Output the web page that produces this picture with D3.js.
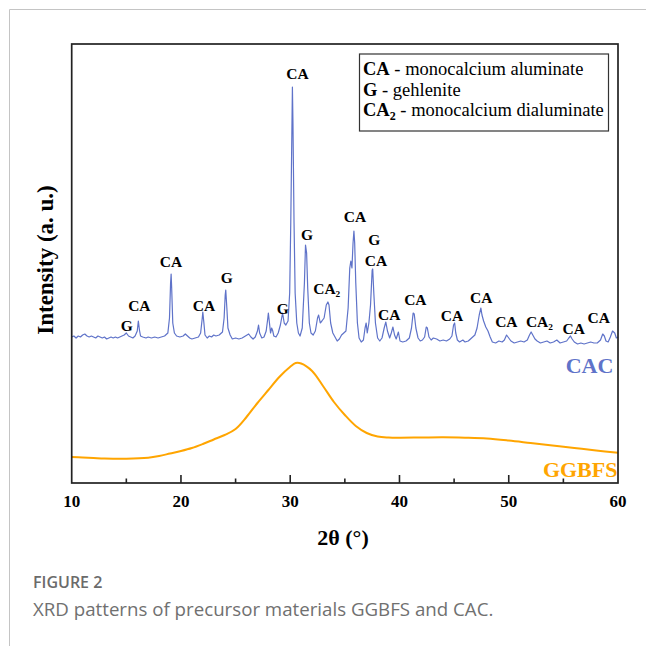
<!DOCTYPE html>
<html>
<head>
<meta charset="UTF-8">
<title>XRD patterns of precursor materials</title>
<style>
    body { margin: 0; background: #fff; }
    svg { display: block; }
    .tick-label { font: bold 17px "Liberation Serif", "Times New Roman", serif; fill: #000; }
    .peak { font: bold 15.5px "Liberation Serif", "Times New Roman", serif; fill: #000; }
    .legend { font: 18.5px "Liberation Serif", "Times New Roman", serif; fill: #000; }
    .caption-head { font: 600 16px "Open Sans", "Noto Sans", sans-serif; fill: #6b6b6b; }
    .caption { font: 18.7px "Open Sans", "Noto Sans", sans-serif; fill: #707070; }
</style>
</head>
<body>
<script src="https://d3js.org/d3.v7.min.js"></script>
<script>
// CAC pattern (2theta, intensity a.u.)
var cacAngle = [10.0, 10.2, 10.4, 10.6, 10.8, 11.0, 11.2, 11.4, 11.6, 11.8, 12.0, 12.2, 12.4, 12.6, 12.8, 13.0, 13.2, 13.4, 13.6, 13.8,
    14.0, 14.2, 14.4, 14.6, 14.8, 15.0, 15.2, 15.4, 15.6, 15.8, 16.0, 16.1, 16.2, 16.3, 16.5, 16.8, 17.0, 17.3, 17.6, 17.9,
    18.2, 18.5, 18.8, 18.95, 19.05, 19.1, 19.15, 19.25, 19.4, 19.6, 19.9, 20.2, 20.4, 20.6, 20.8, 21.0, 21.3, 21.6, 21.8, 21.95,
    22.0, 22.1, 22.2, 22.4, 22.6, 22.8, 23.0, 23.2, 23.5, 23.8, 23.95, 24.05, 24.1, 24.2, 24.3, 24.5, 24.7, 25.0, 25.3, 25.6,
    25.9, 26.2, 26.4, 26.6, 26.8, 27.0, 27.1, 27.2, 27.4, 27.6, 27.8, 27.95, 28.0, 28.1, 28.2, 28.3, 28.4, 28.5, 28.7, 28.9,
    29.1, 29.3, 29.45, 29.6, 29.8, 29.95, 30.05, 30.15, 30.2, 30.25, 30.35, 30.45, 30.6, 30.75, 30.9, 31.1, 31.3, 31.4, 31.5, 31.6,
    31.75, 31.9, 32.1, 32.3, 32.5, 32.6, 32.75, 32.9, 33.1, 33.3, 33.45, 33.55, 33.7, 33.9, 34.1, 34.3, 34.5, 34.7, 34.9, 35.1,
    35.3, 35.45, 35.55, 35.65, 35.75, 35.83, 35.9, 36.0, 36.15, 36.3, 36.5, 36.7, 36.85, 36.95, 37.05, 37.2, 37.35, 37.5, 37.55, 37.65,
    37.8, 38.0, 38.2, 38.4, 38.6, 38.75, 38.9, 39.1, 39.25, 39.4, 39.55, 39.7, 39.9, 40.05, 40.3, 40.6, 40.9, 41.1, 41.25, 41.35,
    41.5, 41.7, 41.9, 42.1, 42.3, 42.45, 42.55, 42.7, 42.9, 43.1, 43.4, 43.7, 44.0, 44.3, 44.6, 44.8, 44.95, 45.05, 45.15, 45.3,
    45.5, 45.8, 46.0, 46.3, 46.6, 46.9, 47.1, 47.3, 47.45, 47.55, 47.7, 47.9, 48.1, 48.3, 48.5, 48.8, 49.1, 49.4, 49.6, 49.8,
    50.0, 50.2, 50.5, 50.8, 51.1, 51.4, 51.7, 51.9, 52.05, 52.2, 52.4, 52.6, 52.9, 53.2, 53.5, 53.8, 54.1, 54.4, 54.7, 55.0,
    55.3, 55.5, 55.65, 55.8, 56.0, 56.3, 56.6, 56.9, 57.2, 57.5, 57.8, 58.1, 58.4, 58.6, 58.75, 58.9, 59.1, 59.3, 59.5, 59.7,
    59.85, 60.0];
var cacIntensity = [146, 147, 145, 147, 146, 148, 149, 147, 146, 147, 146, 145, 147, 146, 145, 146, 144, 145, 146, 145,
    146, 145, 146, 147, 148, 150, 147, 146, 145, 147, 152, 162, 153, 147, 146, 145, 146, 145, 146, 145,
    146, 147, 150, 165, 200, 209, 195, 160, 150, 147, 146, 147, 149, 147, 145, 144, 145, 146, 150, 165,
    171, 160, 148, 145, 147, 146, 148, 147, 148, 151, 165, 188, 193, 175, 155, 148, 144, 145, 144, 145,
    147, 149, 146, 144, 146, 152, 158, 150, 145, 146, 152, 165, 170, 160, 150, 155, 152, 147, 146, 150,
    158, 170, 160, 158, 162, 190, 260, 350, 396, 360, 260, 190, 160, 150, 147, 155, 200, 238, 230, 195,
    160, 150, 148, 152, 165, 168, 160, 162, 165, 178, 181, 178, 160, 150, 146, 142, 144, 148, 150, 152,
    175, 215, 222, 215, 240, 252, 240, 200, 160, 145, 141, 143, 155, 160, 150, 160, 178, 213, 214, 190,
    160, 145, 142, 145, 155, 161, 152, 145, 150, 156, 148, 144, 151, 142, 141, 142, 145, 155, 170, 169,
    155, 145, 142, 143, 146, 156, 155, 146, 143, 145, 144, 142, 143, 142, 144, 147, 158, 160, 150, 143,
    141, 143, 141, 142, 145, 148, 155, 168, 175, 168, 162, 156, 152, 146, 141, 140, 142, 141, 143, 148,
    145, 142, 140, 141, 142, 141, 143, 148, 151, 148, 144, 142, 140, 141, 142, 140, 141, 143, 140, 141,
    142, 145, 147, 144, 141, 139, 140, 139, 140, 141, 140, 140, 143, 149, 147, 142, 141, 146, 152, 150,
    145, 146];

// GGBFS pattern (amorphous hump)
var ggbfsAngle = [10, 11, 12, 13, 15, 17, 18, 19, 20, 21, 22, 23, 24, 25, 26, 27, 28, 29, 30, 30.5,
    31, 32, 33, 34, 35, 36, 37, 38, 39, 40, 42, 44, 46, 48, 50, 52, 54, 56, 58, 60];
var ggbfsIntensity = [26, 25.5, 25, 24.5, 24.3, 25.3, 27, 29.5, 32, 35, 39, 43.5, 48, 54, 66, 80, 93, 106, 116.3, 120,
    119.5, 112, 97, 81, 68, 57, 50, 46.5, 45.5, 45.3, 45.5, 45.7, 45.3, 44.5, 42.5, 40, 37.5, 35, 32.5, 30.3];

// phase labels over the peaks
var peakText  = ["G", "CA", "CA", "CA", "G", "G", "CA", "G", "CA\u2082", "CA", "G", "CA", "CA", "CA", "CA", "CA", "CA", "CA\u2082", "CA", "CA"];
var peakAngle = [15.03, 16.19, 19.09, 22.11, 24.19, 29.31, 30.67, 31.53, 33.34, 35.93, 37.7, 37.85, 39.07, 41.45, 44.81, 47.49, 49.78, 52.81, 55.94, 58.23];
var peakLevel = [152, 172, 216, 172, 200, 169, 404, 243, 189, 261, 238, 217, 163, 178, 162, 180, 156, 156, 149, 160];

var legendAbbr = ["CA", "G", "CA"];
var legendSub  = ["", "", "2"];
var legendName = [" - monocalcium aluminate", " - gehlenite", " - monocalcium dialuminate"];

var xTicks = [10, 20, 30, 40, 50, 60];
var xMinorTicks = [15, 25, 35, 45, 55];

var W = 646, H = 646;
var plotLeft = 71.7, plotRight = 618, plotTop = 44, plotBottom = 483;

var svg = d3.select("body").append("svg")
    .attr("width", W)
    .attr("height", H);

// page border
svg.append("path")
    .attr("d", "M9.5,646 L9.5,9.5 L646,9.5")
    .attr("fill", "none")
    .attr("stroke", "#c4c4c4")
    .attr("stroke-width", 1);

var x = d3.scaleLinear().domain([10, 60]).range([plotLeft, plotRight]);
var y = d3.scaleLinear().domain([0, 439]).range([plotBottom, plotTop]);

var line = d3.line()
    .x(function (d) { return x(d[0]); })
    .y(function (d) { return y(d[1]); });

var ggbfs = d3.zip(ggbfsAngle, ggbfsIntensity);
var cac = d3.zip(cacAngle, cacIntensity);

svg.append("path")
    .datum(ggbfs)
    .attr("fill", "none")
    .attr("stroke", "#ffa500")
    .attr("stroke-width", 2)
    .attr("d", line.curve(d3.curveCatmullRom.alpha(0.5)));

svg.append("path")
    .datum(cac)
    .attr("fill", "none")
    .attr("stroke", "#5f73c9")
    .attr("stroke-width", 1.2)
    .attr("stroke-linejoin", "round")
    .attr("d", line.curve(d3.curveLinear));

// frame
svg.append("rect")
    .attr("x", plotLeft)
    .attr("y", plotTop)
    .attr("width", plotRight - plotLeft)
    .attr("height", plotBottom - plotTop)
    .attr("fill", "none")
    .attr("stroke", "#222")
    .attr("stroke-width", 1.7);

// inner ticks on the bottom axis
svg.selectAll(".major").data(xTicks.slice(1, -1)).enter()
    .append("line")
    .attr("x1", function (d) { return x(d); })
    .attr("x2", function (d) { return x(d); })
    .attr("y1", plotBottom)
    .attr("y2", plotBottom - 8)
    .attr("stroke", "#222")
    .attr("stroke-width", 1.6);
svg.selectAll(".minor").data(xMinorTicks).enter()
    .append("line")
    .attr("x1", function (d) { return x(d); })
    .attr("x2", function (d) { return x(d); })
    .attr("y1", plotBottom)
    .attr("y2", plotBottom - 4.5)
    .attr("stroke", "#222")
    .attr("stroke-width", 1.6);

svg.selectAll(".tick-label").data(xTicks).enter()
    .append("text")
    .attr("class", "tick-label")
    .attr("x", function (d) { return x(d); })
    .attr("y", 507)
    .attr("text-anchor", "middle")
    .text(function (d) { return d; });

svg.append("text")
    .attr("x", 343)
    .attr("y", 545)
    .attr("text-anchor", "middle")
    .style("font", "bold 22px 'Liberation Serif', serif")
    .text("2\u03b8 (\u00b0)");

svg.append("text")
    .attr("transform", "translate(53,260) rotate(-90)")
    .attr("text-anchor", "middle")
    .style("font", "bold 23px 'Liberation Serif', serif")
    .text("Intensity (a. u.)");

// peak labels
svg.selectAll(".peak").data(d3.range(peakText.length)).enter()
    .append("text")
    .attr("class", "peak")
    .attr("x", function (i) { return x(peakAngle[i]); })
    .attr("y", function (i) { return y(peakLevel[i]); })
    .attr("text-anchor", "middle")
    .text(function (i) { return peakText[i]; });

// series names
svg.append("text")
    .attr("x", x(59.58))
    .attr("y", y(110))
    .attr("text-anchor", "end")
    .style("font", "bold 22px 'Liberation Serif', serif")
    .attr("fill", "#5f73c9")
    .text("CAC");
svg.append("text")
    .attr("x", x(59.95))
    .attr("y", y(6))
    .attr("text-anchor", "end")
    .style("font", "bold 22px 'Liberation Serif', serif")
    .attr("fill", "#ffa500")
    .text("GGBFS");

// legend box
var lg = svg.append("g").attr("transform", "translate(359.5,54)");
lg.append("rect")
    .attr("width", 249)
    .attr("height", 77)
    .attr("fill", "#fff")
    .attr("stroke", "#333")
    .attr("stroke-width", 1.2);
legendAbbr.forEach(function (a, i) {
    var t = lg.append("text")
        .attr("class", "legend")
        .attr("x", 3.5)
        .attr("y", 21 + i * 20.5);
    t.append("tspan").style("font-weight", "bold").text(a);
    if (legendSub[i]) {
        t.append("tspan").style("font-weight", "bold").style("font-size", "12px")
            .attr("dy", 4).text(legendSub[i]);
        t.append("tspan").attr("dy", -4).text(legendName[i]);
    } else {
        t.append("tspan").text(legendName[i]);
    }
});

// caption
svg.append("text")
    .attr("class", "caption-head")
    .attr("x", 33)
    .attr("y", 588)
    .text("FIGURE 2");
svg.append("text")
    .attr("class", "caption")
    .attr("x", 33)
    .attr("y", 616)
    .text("XRD patterns of precursor materials GGBFS and CAC.");
</script>
</body>
</html>
